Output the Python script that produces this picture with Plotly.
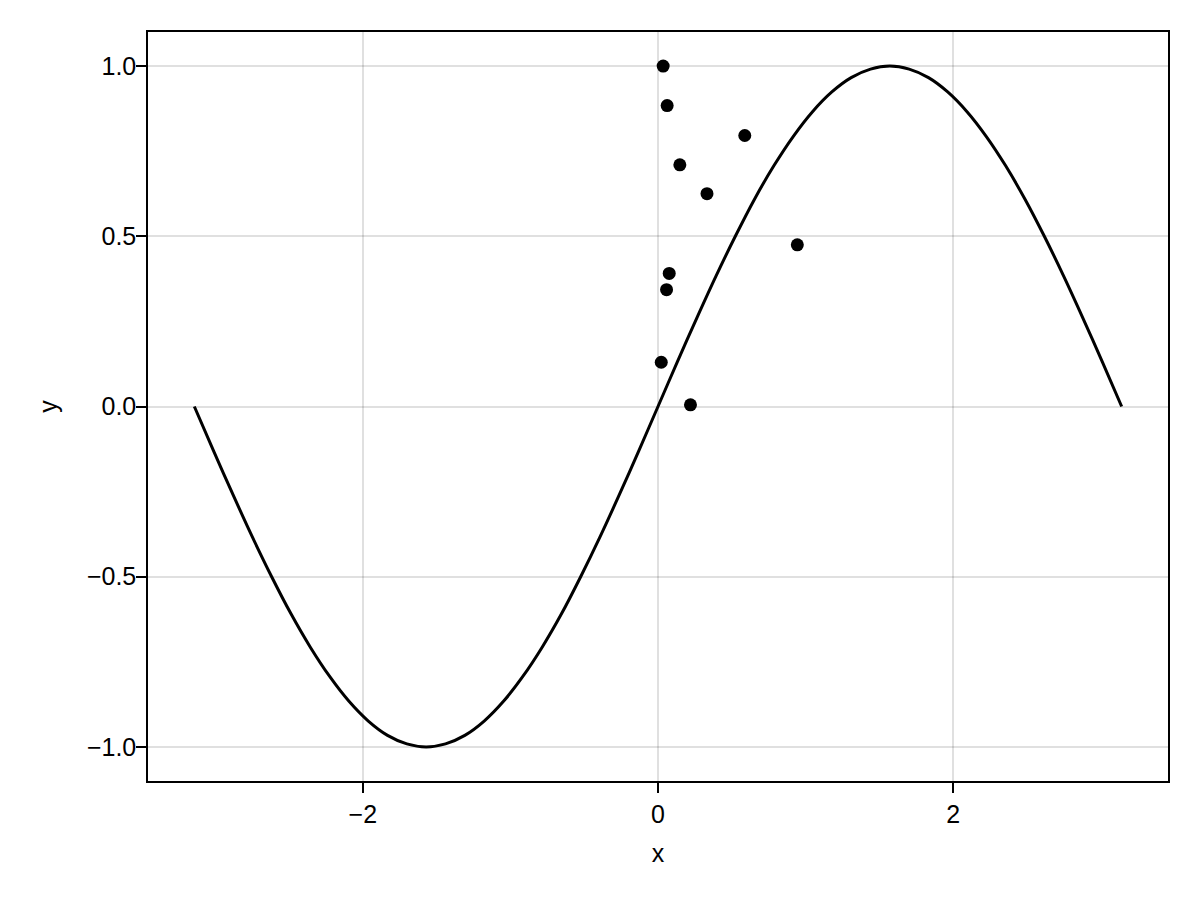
import plotly.graph_objects as go

# Curve values
curve_x = [-3.142, -3.011, -2.880, -2.749, -2.618, -2.487, -2.356, -2.225, -2.094, -1.963,
           -1.833, -1.702, -1.571, -1.440, -1.309, -1.178, -1.047, -0.916, -0.785, -0.654,
           -0.524, -0.393, -0.262, -0.131, 0.0, 0.131, 0.262, 0.393, 0.524, 0.654,
           0.785, 0.916, 1.047, 1.178, 1.309, 1.440, 1.571, 1.702, 1.833, 1.963,
           2.094, 2.225, 2.356, 2.487, 2.618, 2.749, 2.880, 3.011, 3.142]
curve_y = [0.0, -0.131, -0.259, -0.383, -0.5, -0.609, -0.707, -0.793, -0.866, -0.924,
           -0.966, -0.991, -1.0, -0.991, -0.966, -0.924, -0.866, -0.793, -0.707, -0.609,
           -0.5, -0.383, -0.259, -0.131, 0.0, 0.131, 0.259, 0.383, 0.5, 0.609,
           0.707, 0.793, 0.866, 0.924, 0.966, 0.991, 1.0, 0.991, 0.966, 0.924,
           0.866, 0.793, 0.707, 0.609, 0.5, 0.383, 0.259, 0.131, 0.0]

# Scatter points
pts_x = [0.035, 0.062, 0.588, 0.148, 0.332, 0.944, 0.076, 0.058, 0.022, 0.220]
pts_y = [1.0, 0.884, 0.796, 0.710, 0.625, 0.475, 0.391, 0.343, 0.130, 0.005]

x_ticks = [-2, 0, 2]
x_ticktext = ["\u22122", "0", "2"]
y_ticks = [-1.0, -0.5, 0.0, 0.5, 1.0]
y_ticktext = ["\u22121.0", "\u22120.5", "0.0", "0.5", "1.0"]

font = "Liberation Sans, Arial, sans-serif"
fsize = 25

fig = go.Figure()
fig.add_trace(go.Scatter(x=curve_x, y=curve_y, mode="lines",
                         line=dict(color="black", width=3, shape="spline", smoothing=0.8),
                         showlegend=False, hoverinfo="skip"))
fig.add_trace(go.Scatter(x=pts_x, y=pts_y, mode="markers",
                         marker=dict(color="black", size=13, line=dict(width=0)),
                         showlegend=False))

axis_common = dict(
    showline=True, linecolor="black", linewidth=1.5, mirror=True,
    showgrid=True, gridcolor="rgba(0,0,0,0.12)", gridwidth=1.5,
    zeroline=False,
    ticks="outside", ticklen=10, tickwidth=1.5, tickcolor="black",
    tickfont=dict(family=font, size=fsize, color="black"),
)

fig.update_layout(
    width=1200, height=900,
    margin=dict(l=140, r=40, t=24, b=127),
    paper_bgcolor="white", plot_bgcolor="white",
    font=dict(family=font, size=fsize, color="black"),
    xaxis=dict(range=[-3.456, 3.456], tickvals=x_ticks, ticktext=x_ticktext,
               ticklabelstandoff=0,
               title=dict(text="x", font=dict(family=font, size=fsize), standoff=18),
               **axis_common),
    yaxis=dict(range=[-1.1, 1.1], tickvals=y_ticks, ticktext=y_ticktext,
               ticklabelstandoff=-5,
               title=dict(text="y", font=dict(family=font, size=fsize), standoff=22),
               **axis_common),
)

fig.write_html("out.html")
